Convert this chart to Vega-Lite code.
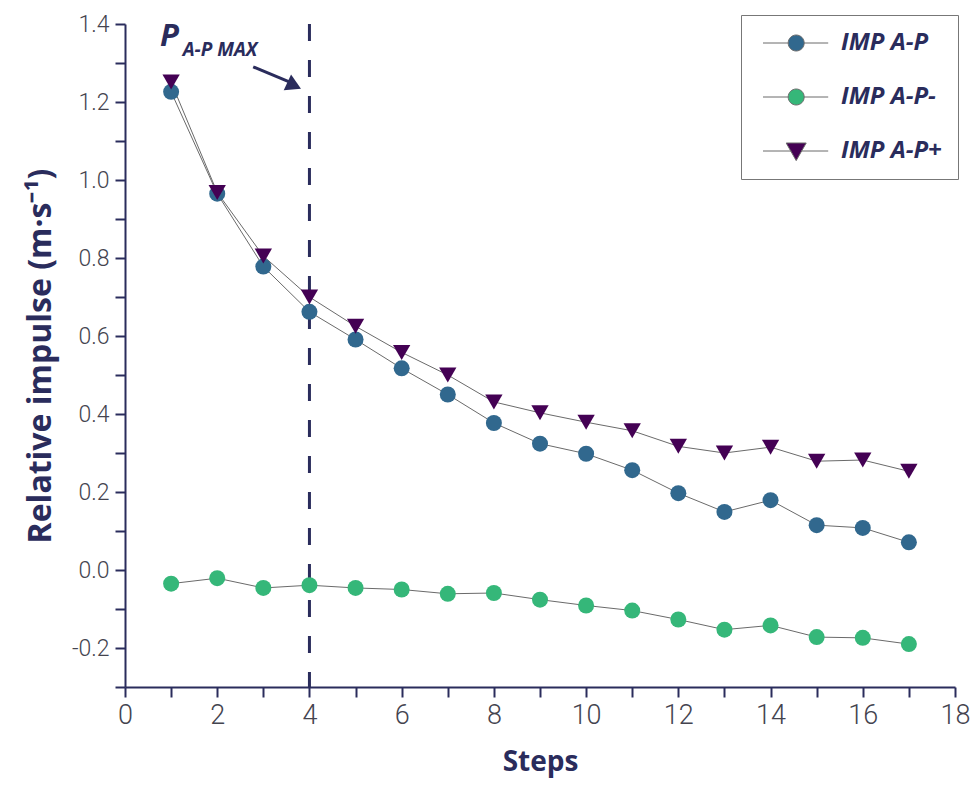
{
  "$schema": "https://vega.github.io/schema/vega-lite/v6.json",
  "width": 830,
  "height": 663,
  "autosize": {"type": "none"},
  "padding": {"left": 125, "top": 24, "right": 15, "bottom": 113},
  "background": "white",
  "config": {
    "view": {"stroke": null},
    "axis": {"grid": false, "domainColor": "#2a2c5c", "domainWidth": 2, "tickColor": "#2a2c5c", "tickWidth": 2, "labelColor": "#44444f", "labelFont": "Roboto", "labelFontWeight": 300, "titleColor": "#2a2c5c", "titleFont": "Open Sans", "titleFontWeight": "bold", "labelOverlap": false},
    "legend": {
      "title": null, "orient": "none", "legendX": 616, "legendY": -9,
      "strokeColor": "#777777", "fillColor": "white",
      "padding": 16, "labelOffset": 60, "rowPadding": 30,
      "labelFont": "Open Sans", "labelFontSize": 24, "labelFontWeight": "bold", "labelFontStyle": "italic", "labelColor": "#2a2c5c",
      "symbolSize": 64, "symbolStrokeColor": "#6a6a6a", "symbolStrokeWidth": 1
    }
  },
  "datasets": {
    "series": [
      {"step": 1, "series": "IMP A-P", "value": 1.226},
      {"step": 2, "series": "IMP A-P", "value": 0.965},
      {"step": 3, "series": "IMP A-P", "value": 0.778},
      {"step": 4, "series": "IMP A-P", "value": 0.662},
      {"step": 5, "series": "IMP A-P", "value": 0.591},
      {"step": 6, "series": "IMP A-P", "value": 0.517},
      {"step": 7, "series": "IMP A-P", "value": 0.45},
      {"step": 8, "series": "IMP A-P", "value": 0.377},
      {"step": 9, "series": "IMP A-P", "value": 0.324},
      {"step": 10, "series": "IMP A-P", "value": 0.298},
      {"step": 11, "series": "IMP A-P", "value": 0.256},
      {"step": 12, "series": "IMP A-P", "value": 0.197},
      {"step": 13, "series": "IMP A-P", "value": 0.149},
      {"step": 14, "series": "IMP A-P", "value": 0.179},
      {"step": 15, "series": "IMP A-P", "value": 0.115},
      {"step": 16, "series": "IMP A-P", "value": 0.108},
      {"step": 17, "series": "IMP A-P", "value": 0.071},
      {"step": 1, "series": "IMP A-P-", "value": -0.035},
      {"step": 2, "series": "IMP A-P-", "value": -0.021},
      {"step": 3, "series": "IMP A-P-", "value": -0.046},
      {"step": 4, "series": "IMP A-P-", "value": -0.039},
      {"step": 5, "series": "IMP A-P-", "value": -0.046},
      {"step": 6, "series": "IMP A-P-", "value": -0.05},
      {"step": 7, "series": "IMP A-P-", "value": -0.061},
      {"step": 8, "series": "IMP A-P-", "value": -0.059},
      {"step": 9, "series": "IMP A-P-", "value": -0.076},
      {"step": 10, "series": "IMP A-P-", "value": -0.091},
      {"step": 11, "series": "IMP A-P-", "value": -0.104},
      {"step": 12, "series": "IMP A-P-", "value": -0.127},
      {"step": 13, "series": "IMP A-P-", "value": -0.153},
      {"step": 14, "series": "IMP A-P-", "value": -0.142},
      {"step": 15, "series": "IMP A-P-", "value": -0.172},
      {"step": 16, "series": "IMP A-P-", "value": -0.174},
      {"step": 17, "series": "IMP A-P-", "value": -0.19},
      {"step": 1, "series": "IMP A-P+", "value": 1.251},
      {"step": 2, "series": "IMP A-P+", "value": 0.968},
      {"step": 3, "series": "IMP A-P+", "value": 0.805},
      {"step": 4, "series": "IMP A-P+", "value": 0.7},
      {"step": 5, "series": "IMP A-P+", "value": 0.625},
      {"step": 6, "series": "IMP A-P+", "value": 0.558},
      {"step": 7, "series": "IMP A-P+", "value": 0.5},
      {"step": 8, "series": "IMP A-P+", "value": 0.431},
      {"step": 9, "series": "IMP A-P+", "value": 0.403},
      {"step": 10, "series": "IMP A-P+", "value": 0.379},
      {"step": 11, "series": "IMP A-P+", "value": 0.357},
      {"step": 12, "series": "IMP A-P+", "value": 0.317},
      {"step": 13, "series": "IMP A-P+", "value": 0.3},
      {"step": 14, "series": "IMP A-P+", "value": 0.315},
      {"step": 15, "series": "IMP A-P+", "value": 0.279},
      {"step": 16, "series": "IMP A-P+", "value": 0.282},
      {"step": 17, "series": "IMP A-P+", "value": 0.253}
    ]
  },
  "layer": [
    {
      "data": {"name": "series"},
      "mark": {"type": "line", "color": "#6a6a6a", "strokeWidth": 1},
      "encoding": {
        "x": {"field": "step", "type": "quantitative",
          "scale": {"domain": [0, 18], "nice": false, "zero": false},
          "axis": {"values": [0,1,2,3,4,5,6,7,8,9,10,11,12,13,14,15,16,17,18], "tickCount": 30, "format": "d", "labelExpr": "datum.value % 2 == 0 ? datum.label : ''", "tickSize": 10, "labelFontSize": 27, "labelPadding": 5, "title": "Steps", "titleFontSize": 28, "titlePadding": 20, "labelFlush": false}},
        "y": {"field": "value", "type": "quantitative",
          "scale": {"domain": [-0.3, 1.4], "nice": false, "zero": false},
          "axis": {"values": [-0.3,-0.2,-0.1,0,0.1,0.2,0.3,0.4,0.5,0.6,0.7,0.8,0.9,1.0,1.1,1.2,1.3,1.4], "tickCount": 30, "format": ".1f", "labelExpr": "abs(round(datum.value*10)) % 2 == 0 ? replace(datum.label, '−', '-') : ''", "tickSize": 10, "labelFontSize": 23, "labelPadding": 6, "title": "Relative impulse (m·s⁻¹)", "titleFontSize": 32, "titlePadding": 14, "labelFlush": false}},
        "detail": {"field": "series", "type": "nominal"}
      }
    },
    {
      "data": {"values": [{"x": 4}]},
      "mark": {"type": "rule", "color": "#2a2c5c", "strokeWidth": 3, "strokeDash": [17, 19]},
      "encoding": {
        "x": {"field": "x", "type": "quantitative"}
      }
    },
    {
      "data": {"name": "series"},
      "transform": [{"filter": "datum.series != 'IMP A-P+'"}],
      "mark": {"type": "point", "shape": "circle", "filled": true, "opacity": 1, "size": 256},
      "encoding": {
        "x": {"field": "step", "type": "quantitative"},
        "y": {"field": "value", "type": "quantitative"},
        "color": {"field": "series", "type": "nominal",
          "scale": {"domain": ["IMP A-P", "IMP A-P-", "IMP A-P+"], "range": ["#31688e", "#35b779", "#440154"]}}
      }
    },
    {
      "data": {"name": "series"},
      "transform": [{"filter": "datum.series == 'IMP A-P+'"}],
      "mark": {"type": "point", "shape": "triangle-down", "filled": true, "opacity": 1, "size": 300},
      "encoding": {
        "x": {"field": "step", "type": "quantitative"},
        "y": {"field": "value", "type": "quantitative"},
        "color": {"field": "series", "type": "nominal"}
      }
    },
    {
      "data": {"name": "series"},
      "mark": {"type": "point", "filled": true, "opacity": 0, "stroke": "#6a6a6a", "strokeWidth": 1},
      "encoding": {
        "x": {"field": "step", "type": "quantitative"},
        "y": {"field": "value", "type": "quantitative"},
        "color": {"field": "series", "type": "nominal"},
        "shape": {"field": "series", "type": "nominal",
          "scale": {"domain": ["IMP A-P", "IMP A-P-", "IMP A-P+"], "range": ["M-1.5,0H4.8M8.8,0H14.8M8.8,0A2,2 0 1,1 4.8,0A2,2 0 1,1 8.8,0Z", "M-1.5,0H4.8M8.8,0H14.8M8.8,0A2,2 0 1,1 4.8,0A2,2 0 1,1 8.8,0Z", "M-1.5,0H5.6M8,0H14.8M4.3,-2L9.3,-2L6.8,2.4Z"]}}
      }
    },
    {
      "data": {"values": [{"x": 0.76, "y": 1.344, "label": "P"}]},
      "mark": {"type": "text", "align": "left", "baseline": "alphabetic", "font": "Open Sans", "fontSize": 31, "fontWeight": "bold", "fontStyle": "italic", "color": "#2a2c5c"},
      "encoding": {
        "x": {"field": "x", "type": "quantitative"},
        "y": {"field": "y", "type": "quantitative"},
        "text": {"field": "label"}
      }
    },
    {
      "data": {"values": [{"x": 1.25, "y": 1.318, "label": "A-P MAX"}]},
      "mark": {"type": "text", "align": "left", "baseline": "alphabetic", "font": "Open Sans", "fontSize": 19, "fontWeight": "bold", "fontStyle": "italic", "color": "#2a2c5c"},
      "encoding": {
        "x": {"field": "x", "type": "quantitative"},
        "y": {"field": "y", "type": "quantitative"},
        "text": {"field": "label"}
      }
    },
    {
      "data": {"values": [{"x": 2.78, "y": 1.29, "x2": 3.55, "y2": 1.252}]},
      "mark": {"type": "rule", "color": "#2a2c5c", "strokeWidth": 3},
      "encoding": {
        "x": {"field": "x", "type": "quantitative"},
        "y": {"field": "y", "type": "quantitative"},
        "x2": {"field": "x2"},
        "y2": {"field": "y2"}
      }
    },
    {
      "data": {"values": [{"x": 3.62, "y": 1.245}]},
      "mark": {"type": "point", "shape": "triangle", "filled": true, "opacity": 1, "size": 300, "angle": 115, "color": "#2a2c5c"},
      "encoding": {
        "x": {"field": "x", "type": "quantitative"},
        "y": {"field": "y", "type": "quantitative"}
      }
    }
  ]
}
